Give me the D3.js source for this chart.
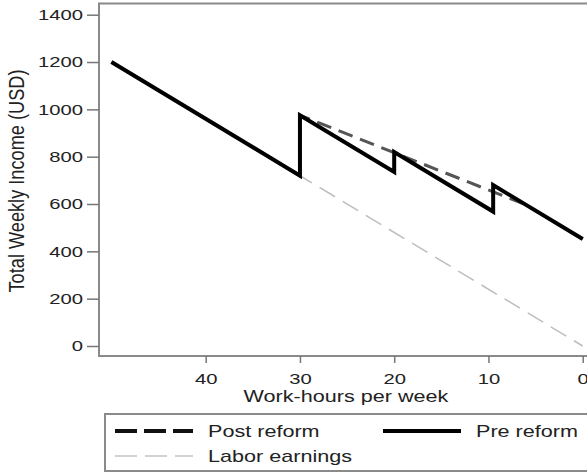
<!DOCTYPE html>
<html>
<head>
<meta charset="utf-8">
<script src="https://cdn.jsdelivr.net/npm/d3@7"></script>
<style>
  body { margin: 0; background: #fff; }
  svg { display: block; font-family: "Liberation Sans", Arial, sans-serif; }
</style>
</head>
<body>
<div id="chart"></div>
<script>
// work-hours per week and total weekly income (USD)
var laborHours = [50, 0];
var laborIncome = [1200, 0];

var postHours = [50, 30, 30, 6, 0];
var postIncome = [1200, 720, 975, 596, 452];

var preHours = [50, 30, 30, 20, 20, 9.5, 9.5, 0];
var preIncome = [1200, 720, 975, 735, 820, 568, 680, 452];

var xTicks = [40, 30, 20, 10, 0];
var yTicks = [0, 200, 400, 600, 800, 1000, 1200, 1400];

var width = 587, height = 472;
var sx = 1.35; // the picture is stretched sideways

var frame = { left: 99, top: 3.5, right: 600, bottom: 356 };

var x = d3.scaleLinear().domain([40, 0]).range([205.7, 582.7]);
var y = d3.scaleLinear().domain([0, 1400]).range([346, 14.7]);

var svg = d3.select("#chart").append("svg")
  .attr("width", width)
  .attr("height", height);

// plot frame
svg.append("rect")
  .attr("x", frame.left)
  .attr("y", frame.top)
  .attr("width", frame.right - frame.left)
  .attr("height", frame.bottom - frame.top)
  .attr("fill", "none")
  .attr("stroke", "#8a8a8a")
  .attr("stroke-width", 2);

// y axis
var gY = svg.append("g")
  .attr("transform", "translate(" + frame.left + ",0)")
  .call(d3.axisLeft(y).tickValues(yTicks).tickFormat(d3.format("d"))
    .tickSizeInner(12).tickSizeOuter(0));
gY.select(".domain").remove();
gY.selectAll(".tick line").attr("stroke", "#777").attr("stroke-width", 1.5);
gY.selectAll(".tick text")
  .attr("x", -16 / sx)
  .attr("transform", "scale(" + sx + ",1)")
  .attr("fill", "#222")
  .style("font-size", "15px");

// x axis
var gX = svg.append("g")
  .attr("transform", "translate(0," + frame.bottom + ")")
  .call(d3.axisBottom(x).tickValues(xTicks).tickFormat(d3.format("d"))
    .tickSizeInner(7).tickSizeOuter(0));
gX.select(".domain").remove();
gX.selectAll(".tick line").attr("stroke", "#777").attr("stroke-width", 1.5);
gX.selectAll(".tick text")
  .attr("y", 28)
  .attr("dy", 0)
  .attr("transform", "scale(" + sx + ",1)")
  .attr("fill", "#222")
  .style("font-size", "15px");

// axis titles
svg.append("text")
  .attr("transform", "translate(346,402) scale(" + sx + ",1)")
  .attr("text-anchor", "middle")
  .attr("fill", "#222")
  .style("font-size", "16px")
  .text("Work-hours per week");

svg.append("text")
  .attr("transform", "translate(24,181) rotate(-90) scale(1," + sx + ")")
  .attr("text-anchor", "middle")
  .attr("fill", "#222")
  .attr("textLength", 223)
  .attr("lengthAdjust", "spacingAndGlyphs")
  .style("font-size", "16px")
  .text("Total Weekly Income (USD)");

var line = d3.line()
  .x(function (d) { return x(d[0]); })
  .y(function (d) { return y(d[1]); });

function pairs(hs, vs) {
  return hs.map(function (h, i) { return [h, vs[i]]; });
}

var plot = svg.append("g");

plot.append("path")
  .datum(pairs(laborHours, laborIncome))
  .attr("fill", "none")
  .attr("stroke", "#bdbdbd")
  .attr("stroke-width", 1.5)
  .attr("stroke-dasharray", "18,9")
  .attr("d", line);

plot.append("path")
  .datum(pairs(postHours, postIncome))
  .attr("fill", "none")
  .attr("stroke", "#555")
  .attr("stroke-width", 3)
  .attr("stroke-dasharray", "15,8")
  .attr("d", line);

plot.append("path")
  .datum(pairs(preHours, preIncome))
  .attr("fill", "none")
  .attr("stroke", "#000")
  .attr("stroke-width", 4)
  .attr("stroke-linejoin", "miter")
  .attr("d", line);

// legend
var legend = svg.append("g");
legend.append("rect")
  .attr("x", 105)
  .attr("y", 414)
  .attr("width", 520)
  .attr("height", 57)
  .attr("fill", "none")
  .attr("stroke", "#8a8a8a")
  .attr("stroke-width", 2);

var legendItems = [
  { label: "Post reform", x: 115, y: 431, color: "#111", w: 4, dash: "22,7" },
  { label: "Pre reform", x: 383, y: 431, color: "#000", w: 4, dash: null },
  { label: "Labor earnings", x: 115, y: 456, color: "#c4c4c4", w: 1.5, dash: "22,8" }
];

legendItems.forEach(function (d) {
  legend.append("line")
    .attr("x1", d.x)
    .attr("x2", d.x + 78)
    .attr("y1", d.y)
    .attr("y2", d.y)
    .attr("stroke", d.color)
    .attr("stroke-width", d.w)
    .attr("stroke-dasharray", d.dash);
  legend.append("text")
    .attr("transform", "translate(" + (d.x + 93) + "," + (d.y + 6) + ") scale(" + sx + ",1)")
    .attr("fill", "#222")
    .style("font-size", "16px")
    .text(d.label);
});
</script>
</body>
</html>
